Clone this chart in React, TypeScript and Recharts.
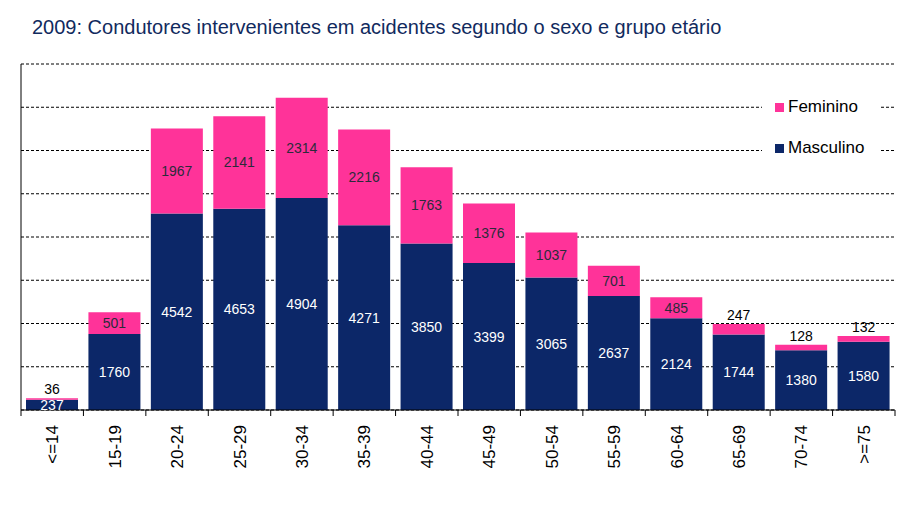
import React from 'react';
import { BarChart, Bar, XAxis, YAxis, CartesianGrid, LabelList } from 'recharts';

const categories = ['<=14', '15-19', '20-24', '25-29', '30-34', '35-39', '40-44', '45-49', '50-54', '55-59', '60-64', '65-69', '70-74', '>=75'];
const masculino = [237, 1760, 4542, 4653, 4904, 4271, 3850, 3399, 3065, 2637, 2124, 1744, 1380, 1580];
const feminino = [36, 501, 1967, 2141, 2314, 2216, 1763, 1376, 1037, 701, 485, 247, 128, 132];
const yTicks = [0, 1000, 2000, 3000, 4000, 5000, 6000, 7000, 8000];

const NAVY = '#0c2768';
const PINK = '#ff3399';
const FONT = 'Arial, "Liberation Sans", sans-serif';

const W = 918;
const H = 511;
const M = { top: 64, right: 23, bottom: 21, left: 20 };
const bandWidth = (W - 21 - M.right) / categories.length;

const data = categories.map((grupo, i) => ({
  grupo,
  Masculino: masculino[i],
  Feminino: feminino[i],
}));

function AgeTick(props: any) {
  const { x, y, payload, index } = props;
  const top = y - 8;
  return (
    <g>
      <line x1={x - bandWidth / 2} x2={x - bandWidth / 2} y1={top} y2={top + 6} stroke="#000" />
      {index === categories.length - 1 && (
        <line x1={x + bandWidth / 2} x2={x + bandWidth / 2} y1={top} y2={top + 6} stroke="#000" />
      )}
      <text
        x={x}
        y={top + 15}
        dy="0.36em"
        transform={`rotate(-90, ${x}, ${top + 15})`}
        textAnchor="end"
        fontSize={17}
        fontFamily={FONT}
        fill="#000"
      >
        {payload.value}
      </text>
    </g>
  );
}

function MascLabel(props: any) {
  const { x, y, width, height, value } = props;
  return (
    <text x={x + width / 2} y={y + height / 2} dy="0.36em" textAnchor="middle" fontSize={14} fontFamily={FONT} fill="#fff">
      {value}
    </text>
  );
}

function FemLabel(props: any) {
  const { x, y, width, height, value } = props;
  const small = height < 18;
  return (
    <text
      x={x + width / 2}
      y={small ? y - 9 : y + height / 2}
      dy="0.36em"
      textAnchor="middle"
      fontSize={14}
      fontFamily={FONT}
      fill={small ? '#000' : '#2b2b3b'}
    >
      {value}
    </text>
  );
}

function LegendBox() {
  const items = [
    { name: 'Feminino', color: PINK },
    { name: 'Masculino', color: NAVY },
  ];
  return (
    <div
      style={{
        position: 'absolute',
        left: 762,
        top: 88,
        background: '#fff',
        width: 118,
        padding: '9px 0 9px 13px',
        boxSizing: 'border-box',
        fontFamily: FONT,
      }}
    >
      {items.map((it, i) => (
        <div key={it.name} style={{ display: 'flex', alignItems: 'center', height: 20, marginTop: i === 0 ? 0 : 21 }}>
          <span style={{ display: 'inline-block', width: 9, height: 9, background: it.color, marginRight: 4 }} />
          <span style={{ fontSize: 17, color: '#000' }}>{it.name}</span>
        </div>
      ))}
    </div>
  );
}

export default function App() {
  return (
    <div style={{ position: 'absolute', left: 0, top: 0, width: W, height: H, background: '#fff' }}>
      <div style={{ position: 'absolute', left: 32, top: 16, fontSize: 20, fontFamily: FONT, color: '#112a5e', whiteSpace: 'nowrap' }}>
        2009: Condutores intervenientes em acidentes segundo o sexo e grupo etário
      </div>
      <BarChart width={W} height={H} data={data} margin={M} barSize={52}>
        <CartesianGrid vertical={false} stroke="#000" strokeDasharray="3 2" />
        <XAxis
          dataKey="grupo"
          height={80}
          interval={0}
          tickLine={false}
          axisLine={{ stroke: '#000' }}
          tick={<AgeTick />}
        />
        <YAxis
          width={1}
          domain={[0, 8000]}
          ticks={yTicks}
          interval={0}
          tick={() => <g />}
          tickLine={false}
          axisLine={{ stroke: '#000' }}
        />
        <Bar dataKey="Masculino" stackId="a" fill={NAVY} isAnimationActive={false}>
          <LabelList dataKey="Masculino" content={<MascLabel />} />
        </Bar>
        <Bar dataKey="Feminino" stackId="a" fill={PINK} isAnimationActive={false}>
          <LabelList dataKey="Feminino" content={<FemLabel />} />
        </Bar>
      </BarChart>
      <LegendBox />
    </div>
  );
}
